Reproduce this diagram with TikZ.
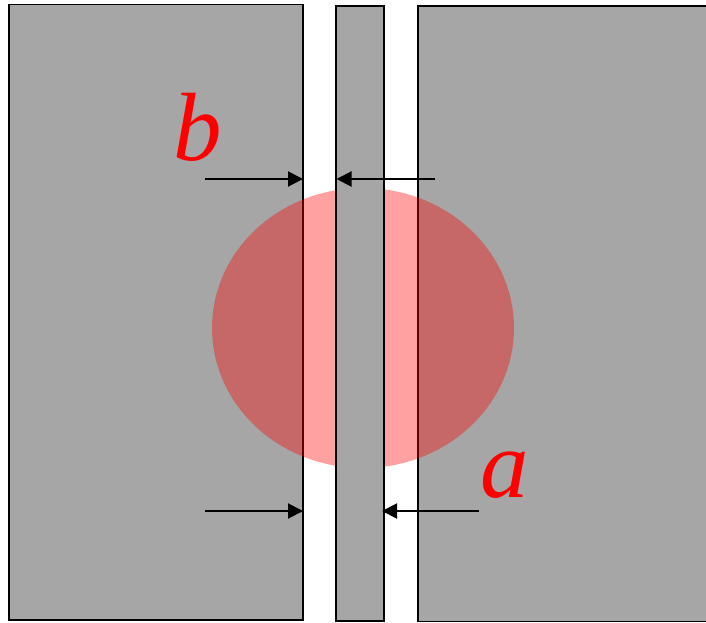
\documentclass[tikz,border=0pt]{standalone}
\usepackage{fontspec}
\setmainfont{Liberation Serif}
\usetikzlibrary{arrows.meta}
\definecolor{plate}{HTML}{A6A6A6}
\tikzset{
  platebox/.style={draw=black, line width=1.5pt, fill=plate},
  spot/.style={fill=red, fill opacity=0.37},
  gaparrow/.style={draw=black, line width=2pt, -{Triangle[length=15pt,width=15pt]}},
  lbl/.style={text=red, font=\fontsize{97}{100}\selectfont\itshape, inner sep=0pt, anchor=base}
}
\begin{document}
\begin{tikzpicture}[x=1pt,y=-1pt]
\useasboundingbox (0,0) rectangle (706,622);
\begin{scope}
\clip (0,0) rectangle (706,622);
\path[platebox] (9,4.5) rectangle (303,620);
\path[platebox] (418,6) rectangle (720,621.5);
\path[spot] (363,328) ellipse [x radius=151, y radius=140];
\path[platebox] (336,6) rectangle (384,621);
\end{scope}
\coordinate (t1s) at (205,179);
\coordinate (t1e) at (303,179);
\coordinate (t2s) at (435,179);
\coordinate (t2e) at (336.5,179);
\coordinate (b1s) at (205,511);
\coordinate (b1e) at (303,511);
\coordinate (b2s) at (479,511);
\coordinate (b2e) at (382,511);
\draw[gaparrow] (t1s) -- (t1e);
\draw[gaparrow] (t2s) -- (t2e);
\draw[gaparrow] (b1s) -- (b1e);
\draw[gaparrow] (b2s) -- (b2e);
\node[lbl] (lb) at (198,160) {b};
\node[lbl] (la) at (505,497) {a};
\end{tikzpicture}
\end{document}
